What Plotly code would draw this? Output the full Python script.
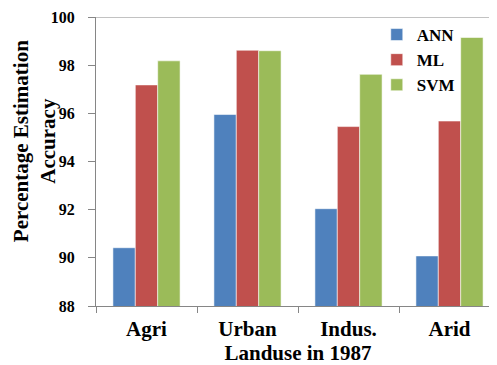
import plotly.graph_objects as go

categories = ["Agri", "Urban", "Indus.", "Arid"]
ann = [90.42, 95.95, 92.04, 90.08]
ml = [97.18, 98.62, 95.45, 95.68]
svm = [98.18, 98.6, 97.62, 99.15]
y_ticks = [88, 90, 92, 94, 96, 98, 100]

font_family = "'Liberation Serif', 'Times New Roman', serif"
fig = go.Figure()
for name, vals, col in [("ANN", ann, "#4F81BD"), ("ML", ml, "#C0504D"), ("SVM", svm, "#9BBB59")]:
    fig.add_trace(go.Bar(name=f"<b>{name}</b>", x=categories, y=vals, marker_color=col,
                         marker_line=dict(color="rgba(255,255,255,0.55)", width=1)))

fig.update_layout(
    width=492, height=357,
    margin=dict(l=88, r=0, t=9, b=59, autoexpand=False),
    paper_bgcolor="white", plot_bgcolor="white",
    barmode="group", bargap=0.335, bargroupgap=0,
    font=dict(family=font_family, size=18, color="black"),
    showlegend=True,
    legend=dict(x=0.695, y=1.0, xanchor="left", yanchor="top",
                font=dict(family=font_family, size=17, color="black"),
                bgcolor="rgba(0,0,0,0)", tracegroupgap=0, itemwidth=30),
    xaxis=dict(showline=True, linecolor="#868686", linewidth=1, automargin=False,
               ticks="outside", tickson="boundaries", ticklen=6, tickcolor="#868686",
               tickfont=dict(family=font_family, size=21, color="black"),
               ticklabelstandoff=4,
               title=dict(text="<b>Landuse in 1987</b>", standoff=3,
                          font=dict(family=font_family, size=21))),
    yaxis=dict(range=[88, 100], tickvals=y_ticks, ticktext=[f"<b>{v}</b>" for v in y_ticks],
               showline=True, linecolor="#868686", linewidth=1, showgrid=False, automargin=False,
               ticks="outside", ticklen=7, tickcolor="#868686", ticklabelstandoff=10,
               tickfont=dict(family=font_family, size=16, color="black"),
               zeroline=False),
)
fig.update_xaxes(ticktext=[f"<b>{c}</b>" for c in categories], tickvals=categories)
fig.add_shape(type="line", xref="paper", yref="y", x0=0, x1=1, y0=100, y1=100,
              line=dict(color="#868686", width=1))
fig.add_annotation(text="<b>Percentage Estimation<br>Accuracy</b>", textangle=-90,
                   xref="paper", yref="paper", x=-0.152, y=0.569, xanchor="center", yanchor="middle",
                   borderpad=0,
                   showarrow=False, font=dict(family=font_family, size=21, color="black"))
fig.write_html("out.html")
